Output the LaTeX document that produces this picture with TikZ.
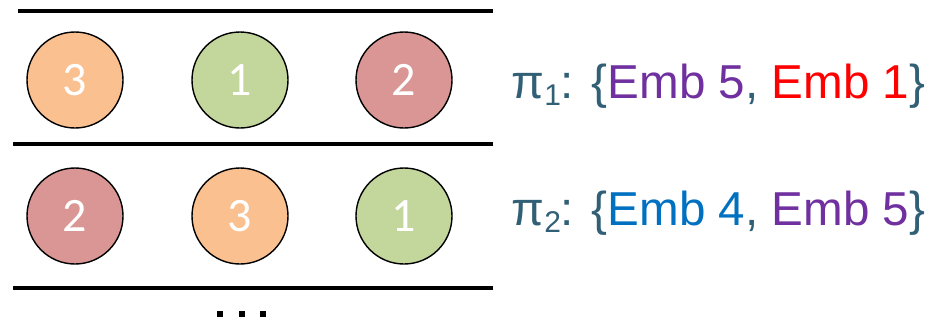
\documentclass[tikz,border=0pt]{standalone}
\usepackage{fontspec}
\setmainfont{Liberation Sans}
\newfontfamily\numfont{Carlito}
\usepackage{tikz}
\usetikzlibrary{positioning}
\definecolor{ballorange}{RGB}{250, 192, 144}
\definecolor{ballgreen}{RGB}{195, 214, 155}
\definecolor{ballred}{RGB}{217, 150, 148}
\definecolor{pilabel}{RGB}{49, 96, 118}
\definecolor{embpurple}{RGB}{112, 48, 160}
\definecolor{embred}{RGB}{255, 0, 0}
\definecolor{embblue}{RGB}{0, 112, 192}
\newcommand{\permsub}[1]{\raisebox{-0.3ex}{\fontsize{15}{15}\selectfont #1}}

\begin{document}
\begin{tikzpicture}[
    x=0.5pt, y=-0.5pt,
    ball/.style={circle, draw=black, line width=0.7pt, minimum size=48pt, inner sep=0pt, text=white, font=\numfont\fontsize{24}{24}\selectfont},
    rule/.style={draw=black, line width=2.3pt},
    perm/.style={anchor=base west, inner sep=0pt, text=pilabel, font=\fontsize{23.8}{26}\selectfont},
    dotbox/.style={fill=black, minimum size=3pt, inner sep=0pt}
]
\useasboundingbox (0,0) rectangle (945,323);

% Separating rules
\coordinate (r1a) at (18, 11);  \coordinate (r1b) at (493, 11);
\coordinate (r2a) at (13, 144); \coordinate (r2b) at (493, 144);
\coordinate (r3a) at (13, 288); \coordinate (r3b) at (493, 288);
\draw[rule] (r1a) -- (r1b);
\draw[rule] (r2a) -- (r2b);
\draw[rule] (r3a) -- (r3b);

% First permutation
\node[ball, fill=ballorange] (a1) at (75, 80) {3};
\node[ball, fill=ballgreen] (a2) at (240, 80) {1};
\node[ball, fill=ballred] (a3) at (404, 80) {2};

% Second permutation
\node[ball, fill=ballred] (b1) at (75, 216) {2};
\node[ball, fill=ballorange] (b2) at (240, 216) {3};
\node[ball, fill=ballgreen] (b3) at (404, 216) {1};

% Ellipsis
\foreach \x [count=\i] in {220, 242, 263}
    \node[dotbox] (dot\i) at (\x, 314) {};

% Labels
\node[perm] (pi1) at (511, 98) {π\permsub{1}: \{\textcolor{embpurple}{Emb 5}, \textcolor{embred}{Emb 1}\}};
\node[perm] (pi2) at (511, 225) {π\permsub{2}: \{\textcolor{embblue}{Emb 4}, \textcolor{embpurple}{Emb 5}\}};

\end{tikzpicture}
\end{document}
